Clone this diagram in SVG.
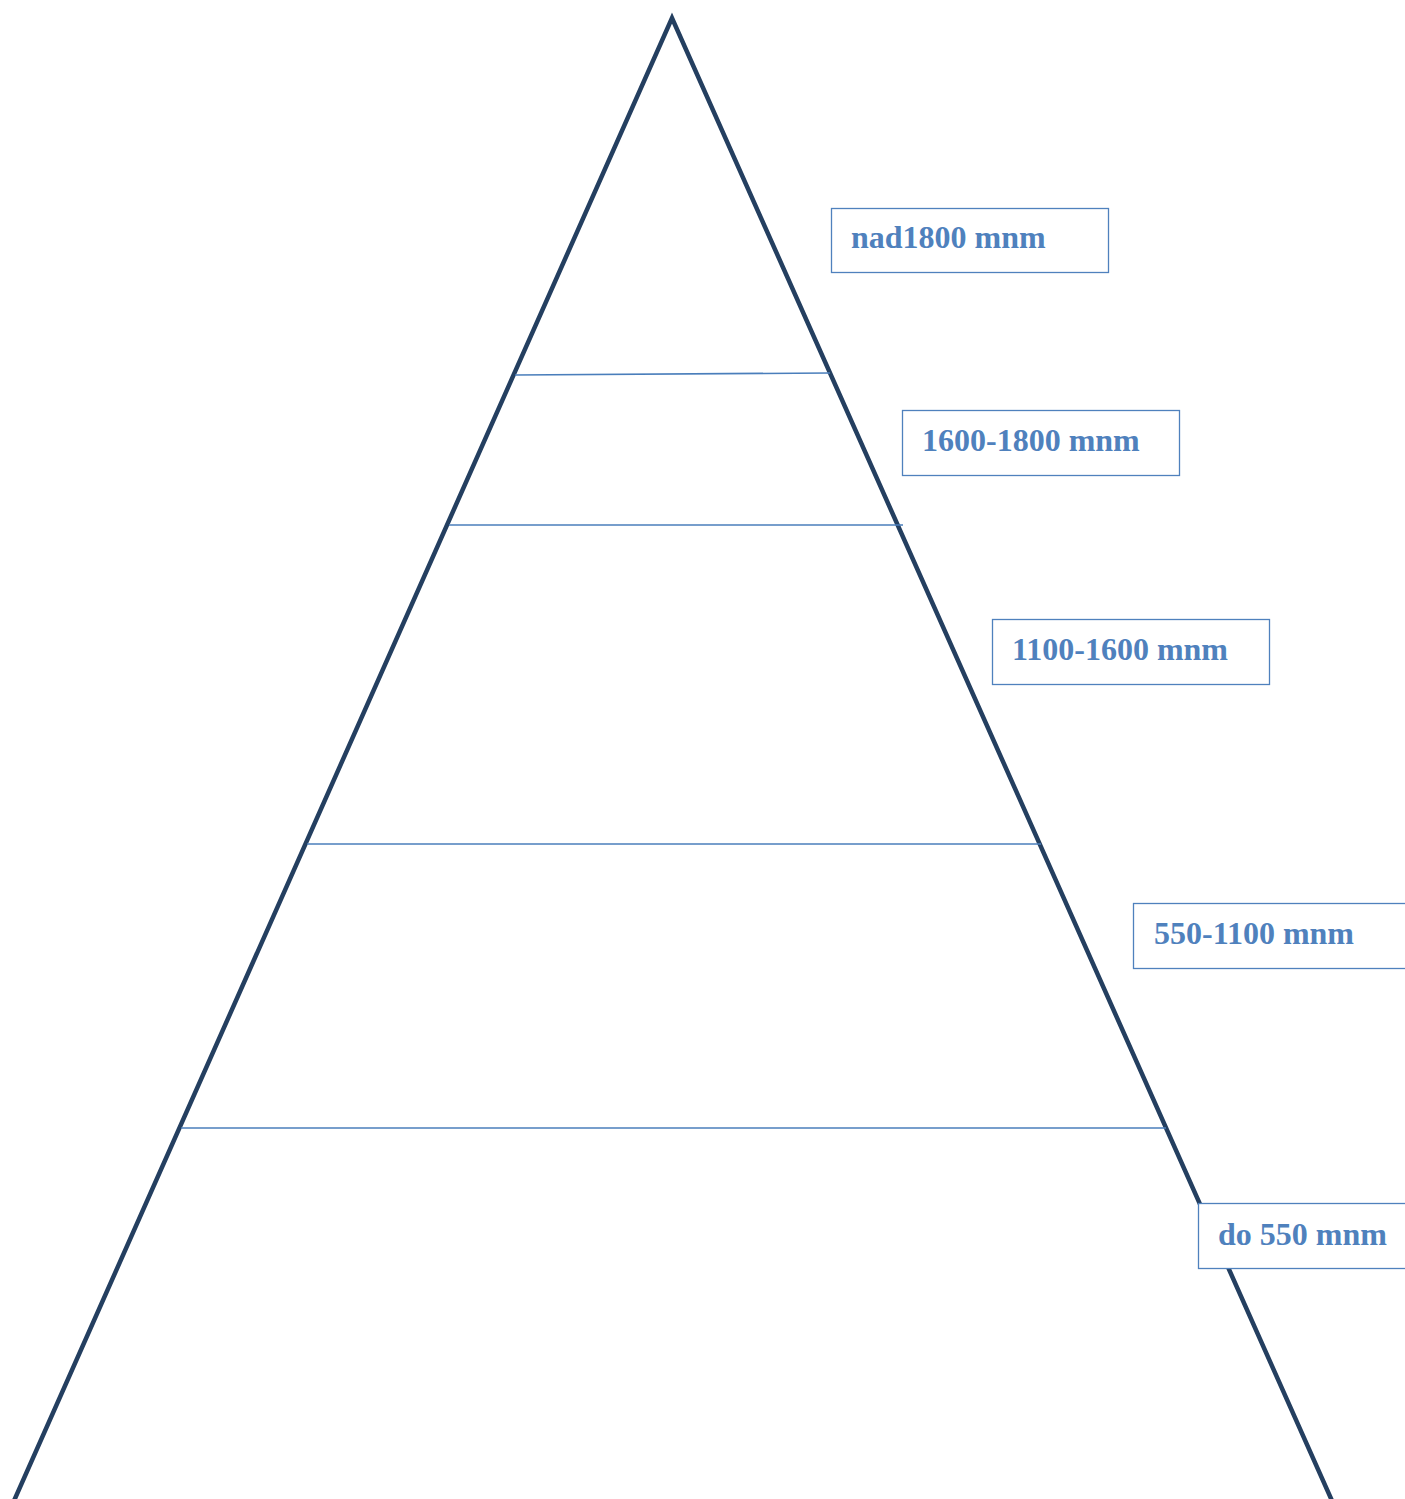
<svg xmlns="http://www.w3.org/2000/svg" width="1405" height="1499" viewBox="0 0 1405 1499">
<style>
.tri{fill:none;stroke:#243F60;stroke-width:4.5;stroke-linejoin:miter}
.lvl{stroke:#4A7EBB;stroke-width:1.6;fill:none}
.box{fill:#fff;stroke:#4F81BD;stroke-width:1.3}
.lbl{font-family:"Liberation Serif",serif;font-weight:bold;font-size:32px;fill:#4F81BD}
</style>
<rect width="1405" height="1499" fill="#fff"/>
<g id="pyramid">
<polyline class="tri" points="13,1503 672,18 1333,1503"/>
</g>
<g id="connectors">
<line class="lvl" x1="515" y1="375" x2="830" y2="373"/>
<line class="lvl" x1="449" y1="525" x2="903" y2="525"/>
<line class="lvl" x1="307" y1="844" x2="1041" y2="844"/>
<line class="lvl" x1="181" y1="1128" x2="1166" y2="1128"/>
</g>
<g id="n1"><rect class="box" x="831.5" y="208.5" width="277" height="64"/><text class="lbl" x="851" y="248">nad1800 mnm</text></g>
<g id="n2"><rect class="box" x="902.5" y="410.5" width="277" height="65"/><text class="lbl" x="922" y="451">1600-1800 mnm</text></g>
<g id="n3"><rect class="box" x="992.5" y="619.5" width="277" height="65"/><text class="lbl" x="1012" y="660">1100-1600 mnm</text></g>
<g id="n4"><rect class="box" x="1133.5" y="903.5" width="290" height="65"/><text class="lbl" x="1154" y="944">550-1100 mnm</text></g>
<g id="n5"><rect class="box" x="1198.5" y="1203.5" width="290" height="65"/><text class="lbl" x="1218" y="1245">do 550 mnm</text></g>
</svg>
